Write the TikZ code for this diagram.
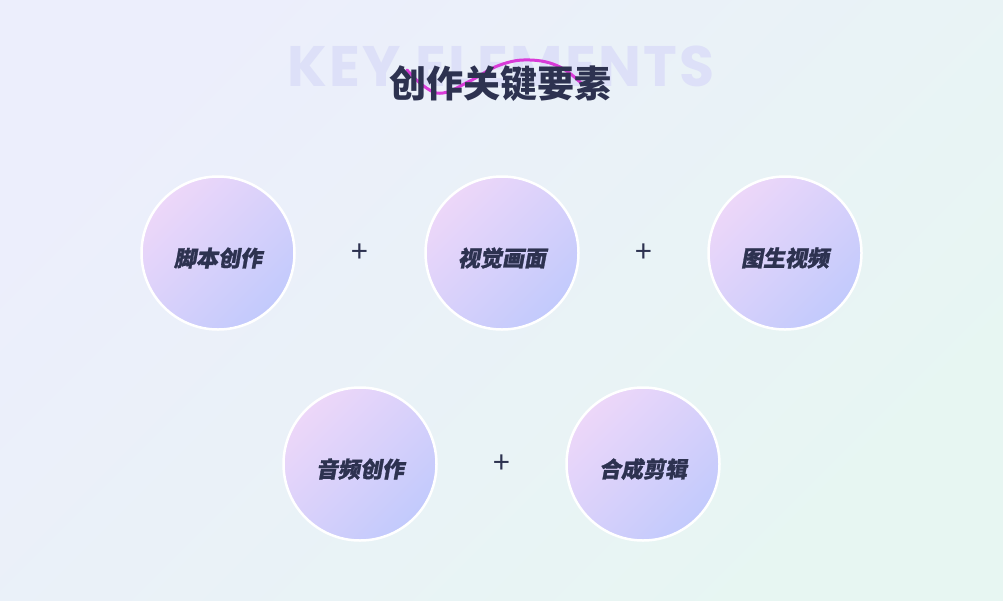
\documentclass[tikz,border=0pt]{standalone}
\usepackage{fontspec}
\usetikzlibrary{calc}
\newfontfamily\cjk{Noto Sans CJK SC}
\newfontfamily\cjkslant{Noto Sans CJK SC}[FakeSlant=0.18, BoldFeatures={FakeBold=1.2}]
\newfontfamily\ghostfont{Poppins}[LetterSpace=4]
\definecolor{bgA}{HTML}{ECEEFC}
\definecolor{bgB}{HTML}{E7F6F2}
\definecolor{cirA}{HTML}{EDD7F9}
\definecolor{cirB}{HTML}{C2CAFC}
\definecolor{ink}{HTML}{2D3250}
\definecolor{ghost}{HTML}{DDE0F8}
\definecolor{wave}{HTML}{D93BD8}
\begin{document}
\begin{tikzpicture}[x=1pt, y=-1pt,
    elem/.style={circle, draw=white, line width=2.5pt, minimum size=153pt, inner sep=0pt,
      top color=cirA, bottom color=cirB, shading angle=45},
    elemtext/.style={text=ink, font=\cjkslant\bfseries\fontsize{22}{22}\selectfont},
    plus/.style={text=ink, font=\cjk\fontsize{30}{30}\selectfont}]
  \useasboundingbox (0,0) rectangle (1003,600);
  \shade[top color=bgA, bottom color=bgB, shading angle=45] (0,0) rectangle (1003,600);
  % title
  \node[anchor=base, text=ghost, font=\ghostfont\bfseries\fontsize{57}{57}\selectfont] (ghost) at (501,86) {KEY ELEMENTS};
  \draw[wave, line width=3pt, line cap=round] plot[smooth, tension=.7] coordinates
    {(407,70) (425,87) (443,93) (470,81) (500,65) (530,60) (560,67) (583,85)};
  \node[text=ink, font=\cjk\bfseries\fontsize{37}{37}\selectfont] (title) at (500,84) {创作关键要素};
  % elements
  \foreach \name/\x/\y/\txt in {e1/218/253/脚本创作, e2/502/253/视觉画面, e3/785/253/图生视频,
      e4/360/464/音频创作, e5/643/464/合成剪辑}{
    \node[elem] (\name) at (\x,\y) {};
    \node[elemtext] (\name t) at ([yshift=-5pt]\name.center) {\txt};
  }
  \node[plus] (p1) at ($(e1)!.5!(e2)$) {+};
  \node[plus] (p2) at ($(e2)!.5!(e3)$) {+};
  \node[plus] (p3) at ($(e4)!.5!(e5)$) {+};
\end{tikzpicture}
\end{document}
